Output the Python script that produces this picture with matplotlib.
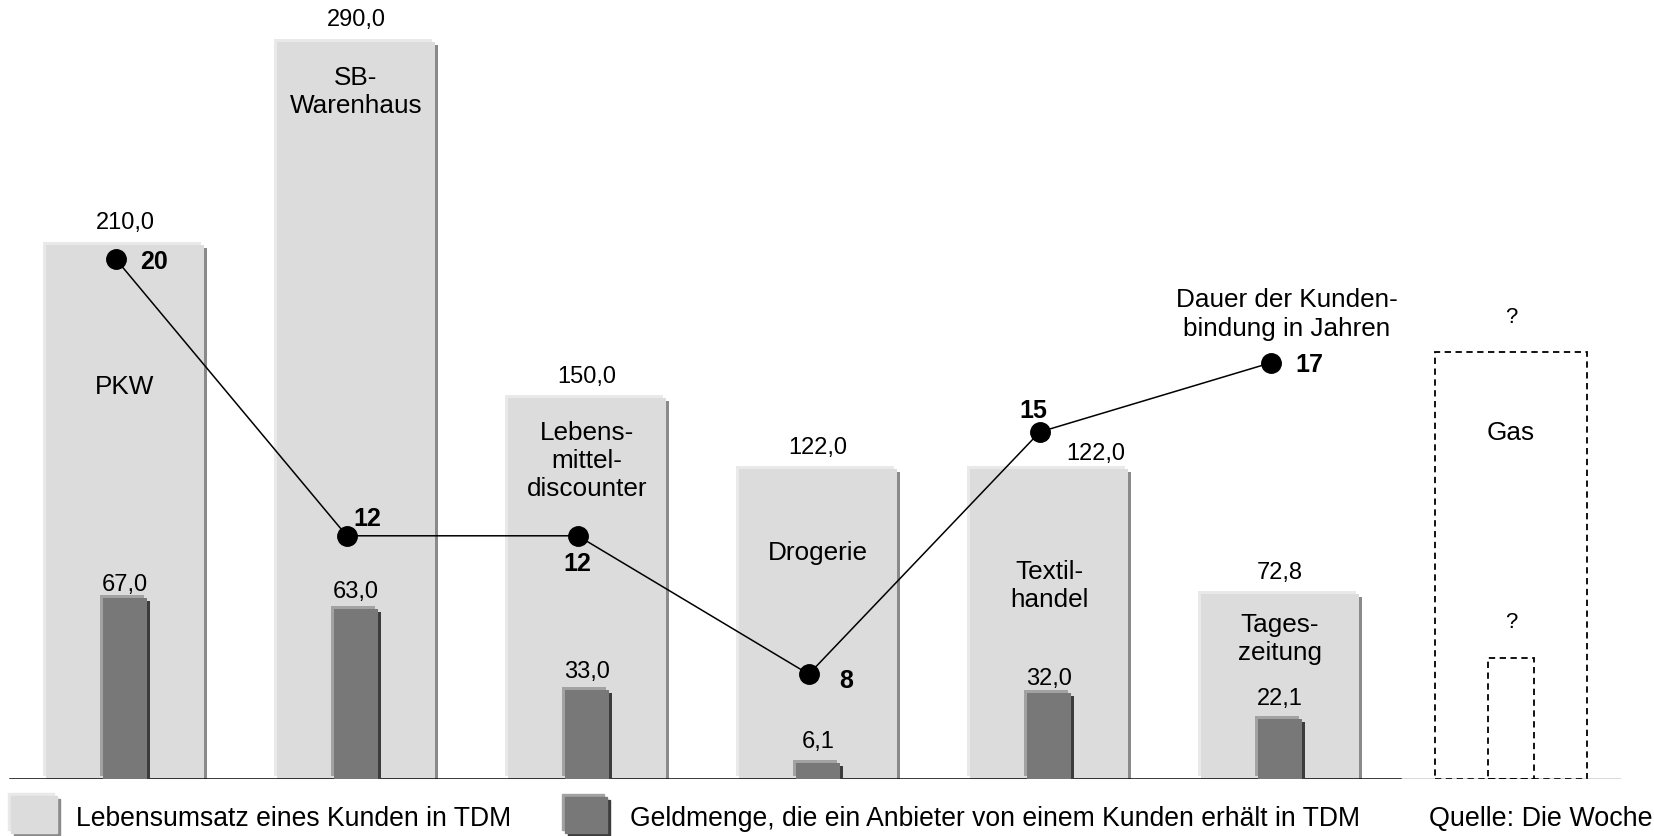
import matplotlib
matplotlib.use("Agg")
import matplotlib.pyplot as plt
import matplotlib.transforms as mtransforms
from matplotlib.patches import Rectangle
import numpy as np

plt.rcParams['font.family'] = ['Liberation Sans', 'DejaVu Sans']

# ---------------- data ----------------
categories = ["PKW", "SB-\nWarenhaus", "Lebens-\nmittel-\ndiscounter", "Drogerie",
              "Textil-\nhandel", "Tages-\nzeitung", "Gas"]
lebensumsatz = [210.0, 290.0, 150.0, 122.0, 122.0, 72.8]      # TDM
geldmenge = [67.0, 63.0, 33.0, 6.1, 32.0, 22.1]                # TDM
dauer = [20, 12, 12, 8, 15, 17]                                # Jahre
gas_umsatz_platzhalter = 168.0   # unknown ("?"), dashed outline
gas_geld_platzhalter = 45.0      # unknown ("?"), dashed outline

legend_light = "Lebensumsatz eines Kunden in TDM"
legend_dark = "Geldmenge, die ein Anbieter von einem Kunden erhält in TDM"
line_title = "Dauer der Kunden-\nbindung in Jahren"
source = "Quelle: Die Woche"

# ---------------- layout ----------------
W, H = 1654, 836
DPI = 100
fig = plt.figure(figsize=(W / DPI, H / DPI), dpi=DPI)
base_px = 779
ax = fig.add_axes([0, (H - base_px) / H, 1, base_px / H])
ax.set_xlim(-125 / 231, (W - 125) / 231)
ax.set_ylim(0, base_px / 2.543)
ax2 = ax.twinx()
ax2.set_ylim(0, base_px / 2.7)
ax3 = ax.twinx()
ax3.set_ylim((951 - base_px) / 34.6, 951 / 34.6)
for a in (ax, ax2, ax3):
    a.axis('off')
    a.patch.set_visible(False)

def px(dx, dy):
    return mtransforms.ScaledTranslation(dx / DPI, dy / DPI, fig.dpi_scale_trans)

def fmt(v):
    return f"{v:.1f}".replace(".", ",")

x = np.arange(len(categories))
xb = x[:len(lebensumsatz)]
gas_x = x[-1]

LIGHT, LIGHT_HI, LIGHT_SH = "#dcdcdc", "#e9e9e9", "#8a8a8a"
DARK, DARK_HI, DARK_SH = "#787878", "#a2a2a2", "#3c3c3c"

def shaded_bars(a, xs, vals, width, main, hi, sh, z):
    a.bar(xs, vals, width, color=sh, transform=a.transData + px(3, -3), zorder=z)
    a.bar(xs, vals, width, color=hi, transform=a.transData + px(-3, 3), zorder=z + 0.1)
    a.bar(xs, vals, width, color=main, zorder=z + 0.2)

# light bars
shaded_bars(ax, xb, lebensumsatz, 0.68, LIGHT, LIGHT_HI, LIGHT_SH, 1)
# dark bars
shaded_bars(ax2, xb, geldmenge, 0.19, DARK, DARK_HI, DARK_SH, 3)

# gas dashed placeholders
ax.bar([gas_x], [gas_umsatz_platzhalter], 0.655, facecolor="none", edgecolor="black",
       linestyle=(0, (3.5, 2.5)), linewidth=1.3, zorder=2)
ax2.bar([gas_x], [gas_geld_platzhalter], 0.195, facecolor="none", edgecolor="black",
        linestyle=(0, (3.5, 2.5)), linewidth=1.3, zorder=2)
ax.annotate("?", (gas_x, gas_umsatz_platzhalter), xytext=(0, 25), textcoords="offset points",
            ha="center", va="center", fontsize=16)
ax2.annotate("?", (gas_x, gas_geld_platzhalter), xytext=(0, 25), textcoords="offset points",
             ha="center", va="center", fontsize=16)

# baseline
ax.axhline(0, xmin=10 / W, xmax=1400 / W, color="black", linewidth=1.8, zorder=2.5)
ax.axhline(0, xmin=1400 / W, xmax=1620 / W, color="#444444", linewidth=1.0, zorder=2.5)

# value labels light bars (offset in px)
light_off = [(0, 22), (0, 22), (0, 21), (0, 21), (47, 15), (0, 21)]
for xi, v, (dx, dy) in zip(xb, lebensumsatz, light_off):
    ax.annotate(fmt(v), (xi, v), xytext=(dx * 0.72, dy * 0.72), textcoords="offset points",
                ha="center", va="center", fontsize=17)

# value labels dark bars
dark_off = [(0, 13), (0, 17), (0, 18), (0, 21), (0, 14), (0, 20)]
for xi, v, (dx, dy) in zip(xb, geldmenge, dark_off):
    ax2.annotate(fmt(v), (xi, v), xytext=(dx * 0.72, dy * 0.72), textcoords="offset points",
                 ha="center", va="center", fontsize=17, zorder=5)

# category labels (y position in light-bar units)
cat_y = [154, 270, 125, 89, 76, 55, 136]
cat_x = list(xb) + [gas_x]
for xi, yi, c in zip(cat_x, cat_y, categories):
    ax.text(xi, yi, c, ha="center", va="center", fontsize=18.8, linespacing=1.2, zorder=4)

# line: Dauer der Kundenbindung
lx = xb - 0.04
ax3.plot(lx, dauer, color="black", linewidth=1.1, marker="o", markersize=14, zorder=6)
dauer_off = [(38, -3), (21, 17), (0, -28), (37, -7), (-6, 21), (39, -2)]
for xi, v, (dx, dy) in zip(lx, dauer, dauer_off):
    ax3.annotate(str(v), (xi, v), xytext=(dx * 0.72, dy * 0.72), textcoords="offset points",
                 ha="center", va="center", fontsize=18, fontweight="bold", zorder=7)
ax3.annotate(line_title, (lx[-1], dauer[-1]), xytext=(16 * 0.72, 48 * 0.72),
             textcoords="offset points", ha="center", va="center", fontsize=18.8,
             linespacing=1.25)

# ---------------- legend (figure pixel coords) ----------------
lg = fig.add_axes([0, 0, 1, 1])
lg.set_xlim(0, W)
lg.set_ylim(H, 0)
lg.axis('off')
lg.patch.set_visible(False)

def swatch(x0, y0, w, h, main, hi, sh):
    lg.add_patch(Rectangle((x0 + 3, y0 + 3), w, h, color=sh))
    lg.add_patch(Rectangle((x0 - 3, y0 - 3), w, h, color=hi))
    lg.add_patch(Rectangle((x0, y0), w, h, color=main))

swatch(11, 796, 46, 37, LIGHT, LIGHT_HI, LIGHT_SH)
swatch(565, 797, 42, 36, DARK, DARK_HI, DARK_SH)
lg.text(76, 819, legend_light, ha="left", va="center", fontsize=19.1)
lg.text(630, 819, legend_dark, ha="left", va="center", fontsize=19.1)
lg.text(1429, 819, source, ha="left", va="center", fontsize=19.4)

fig.savefig("out.png", dpi=DPI)
